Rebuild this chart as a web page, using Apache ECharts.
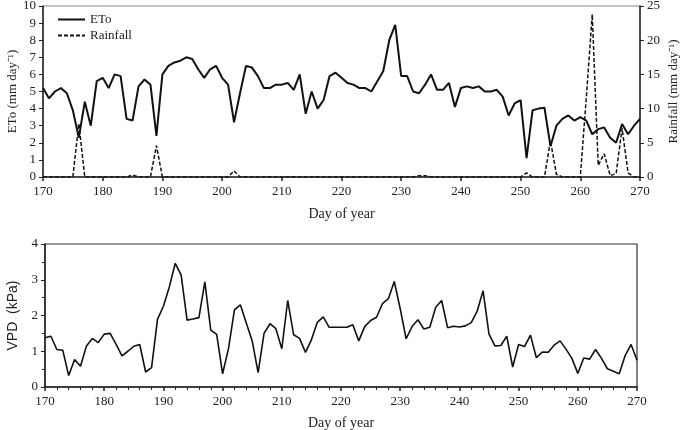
<!DOCTYPE html>
<html>
<head>
<meta charset="utf-8">
<script src="https://cdn.jsdelivr.net/npm/echarts@6/dist/echarts.min.js"></script>
<style>
  body { margin: 0; background: #fff; }
  #chart { width: 685px; height: 430px; }
</style>
</head>
<body>
<div id="chart"></div>
<script>
  // day of year 170..270
  var days = [];
  for (var d = 170; d <= 270; d++) days.push(d);

  var eto = [
    5.2, 4.6, 5.0, 5.2, 4.9, 3.9, 2.3, 4.4, 3.0, 5.6,
    5.8, 5.2, 6.0, 5.9, 3.4, 3.3, 5.3, 5.7, 5.4, 2.4,
    6.0, 6.5, 6.7, 6.8, 7.0, 6.9, 6.3, 5.8, 6.3, 6.5,
    5.8, 5.4, 3.2, 4.9, 6.5, 6.4, 5.9, 5.2, 5.2, 5.4,
    5.4, 5.5, 5.1, 6.0, 3.7, 5.0, 4.0, 4.5, 5.9, 6.1,
    5.8, 5.5, 5.4, 5.2, 5.2, 5.0, 5.6, 6.2, 8.0, 8.9,
    5.9, 5.9, 5.0, 4.9, 5.4, 6.0, 5.1, 5.1, 5.5, 4.1,
    5.2, 5.3, 5.2, 5.3, 5.0, 5.0, 5.1, 4.7, 3.6, 4.3,
    4.5, 1.1, 3.9, 4.0, 4.05, 1.8, 3.0, 3.4, 3.6, 3.3,
    3.5, 3.3, 2.5, 2.8, 2.9, 2.3, 2.0, 3.1, 2.5, 3.0, 3.4
  ];

  var rainfall = [
    0, 0, 0, 0, 0, 0, 7.8, 0, 0, 0,
    0, 0, 0, 0, 0, 0.3, 0, 0, 0, 4.6,
    0, 0, 0, 0, 0, 0, 0, 0, 0, 0,
    0, 0, 0.9, 0, 0, 0, 0, 0, 0, 0,
    0, 0, 0, 0, 0, 0, 0, 0, 0, 0,
    0, 0, 0, 0, 0, 0, 0, 0, 0, 0,
    0, 0, 0, 0.2, 0.2, 0, 0, 0, 0, 0,
    0, 0, 0, 0, 0, 0, 0, 0, 0, 0,
    0, 0.6, 0, 0, 0, 5.3, 0.4, 0, 0, 0,
    0, 11.5, 23.8, 1.7, 3.4, 0.2, 0.5, 7.1, 0.6, 0, 0
  ];

  var vpd = [
    1.38, 1.42, 1.05, 1.03, 0.32, 0.77, 0.58, 1.15, 1.36, 1.24,
    1.48, 1.50, 1.20, 0.87, 1.00, 1.14, 1.19, 0.42, 0.54, 1.89,
    2.26, 2.80, 3.46, 3.13, 1.87, 1.90, 1.94, 2.94, 1.59, 1.47,
    0.37, 1.08, 2.16, 2.30, 1.79, 1.29, 0.40, 1.50, 1.77, 1.63,
    1.07, 2.42, 1.46, 1.36, 0.97, 1.32, 1.81, 1.96, 1.67, 1.67,
    1.67, 1.67, 1.74, 1.29, 1.69, 1.86, 1.95, 2.33, 2.47, 2.95,
    2.19, 1.35, 1.69, 1.88, 1.62, 1.67, 2.23, 2.42, 1.66, 1.70,
    1.68, 1.71, 1.80, 2.12, 2.69, 1.48, 1.15, 1.16, 1.42, 0.56,
    1.19, 1.13, 1.45, 0.82, 0.98, 0.97, 1.17, 1.29, 1.06, 0.80,
    0.38, 0.81, 0.78, 1.05, 0.80, 0.51, 0.44, 0.37, 0.88, 1.19, 0.75
  ];

  var pair = function (vals) {
    return days.map(function (d, i) { return [d, vals[i]]; });
  };

  var serif = 'Liberation Serif';
  var axisCol = '#222';
  var lbl = { fontFamily: serif, fontSize: 13, color: '#222' };

  var myChart = echarts.init(document.getElementById('chart'));

  var xBase = {
    type: 'value', min: 170, max: 270, interval: 10,
    axisLine: { lineStyle: { color: axisCol, width: 1.5 } },
    axisTick: { show: true, length: 4, lineStyle: { color: axisCol, width: 1.5 } },
    splitLine: { show: false },
    axisLabel: Object.assign({ margin: 8 }, lbl),
    name: 'Day of year', nameLocation: 'middle',
    nameTextStyle: { fontFamily: serif, fontSize: 14, color: '#222' }
  };

  var option = {
    animation: false,
    backgroundColor: '#fff',
    legend: {
      orient: 'vertical', left: 52, top: 8, itemGap: 3,
      itemWidth: 27, itemHeight: 10,
      itemStyle: { opacity: 0 },
      textStyle: { fontFamily: serif, fontSize: 13, color: '#222' },
      data: ['ETo', 'Rainfall']
    },
    grid: [
      { left: 43, right: 45, top: 6, height: 171, outerBoundsMode: 'none',
        show: true, borderColor: '#888', borderWidth: 1 },
      { left: 45, right: 48, top: 244, height: 143, outerBoundsMode: 'none',
        show: true, borderColor: '#333', borderWidth: 1.2 }
    ],
    xAxis: [
      Object.assign({}, xBase, { gridIndex: 0, nameGap: 30 }),
      Object.assign({}, xBase, {
        gridIndex: 1, nameGap: 29,
        minorTick: { show: true, splitNumber: 5, length: 3, lineStyle: { color: axisCol } }
      })
    ],
    yAxis: [
      {
        type: 'value', gridIndex: 0, min: 0, max: 10, interval: 1,
        axisLine: { show: true, lineStyle: { color: axisCol, width: 1.5 } },
        axisTick: { show: true, length: 4, lineStyle: { color: axisCol } },
        splitLine: { show: false },
        axisLabel: Object.assign({ margin: 7 }, lbl),
        name: 'ETo (mm day\u207B\u00B9)', nameLocation: 'middle', nameGap: 24, nameRotate: 90,
        nameMoveOverlap: false,
        nameTextStyle: { fontFamily: serif, fontSize: 13, color: '#222' }
      },
      {
        type: 'value', gridIndex: 0, min: 0, max: 25, interval: 5, position: 'right',
        axisLine: { show: true, lineStyle: { color: axisCol, width: 1.5 } },
        axisTick: { show: true, length: 4, lineStyle: { color: axisCol } },
        splitLine: { show: false },
        axisLabel: Object.assign({ margin: 7 }, lbl),
        name: 'Rainfall (mm day\u207B\u00B9)', nameLocation: 'middle', nameGap: 27, nameRotate: 90,
        nameMoveOverlap: false,
        nameTextStyle: { fontFamily: serif, fontSize: 13, color: '#222' }
      },
      {
        type: 'value', gridIndex: 1, min: 0, max: 4, interval: 1,
        axisLine: { show: true, lineStyle: { color: axisCol, width: 1.5 } },
        axisTick: { show: true, length: 4, lineStyle: { color: axisCol } },
        minorTick: { show: true, splitNumber: 2, length: 3, lineStyle: { color: axisCol } },
        splitLine: { show: false },
        axisLabel: Object.assign({ margin: 7 }, lbl),
        name: 'VPD  (kPa)', nameLocation: 'middle', nameGap: 25, nameRotate: 90,
        nameMoveOverlap: false,
        nameTextStyle: { fontFamily: 'Liberation Sans', fontSize: 14, color: '#222' }
      }
    ],
    series: [
      {
        name: 'ETo', type: 'line', xAxisIndex: 0, yAxisIndex: 0,
        data: pair(eto), showSymbol: false, symbol: 'none',
        lineStyle: { color: '#111', width: 2 }, itemStyle: { color: '#111' }
      },
      {
        name: 'Rainfall', type: 'line', xAxisIndex: 0, yAxisIndex: 1,
        data: pair(rainfall), showSymbol: false, symbol: 'none',
        lineStyle: { color: '#111', width: 1.5, type: [4, 2] }, itemStyle: { color: '#111' }
      },
      {
        name: 'VPD', type: 'line', xAxisIndex: 1, yAxisIndex: 2,
        data: pair(vpd), showSymbol: false, symbol: 'none',
        lineStyle: { color: '#111', width: 1.6 }
      }
    ]
  };

  myChart.setOption(option);
</script>
</body>
</html>
